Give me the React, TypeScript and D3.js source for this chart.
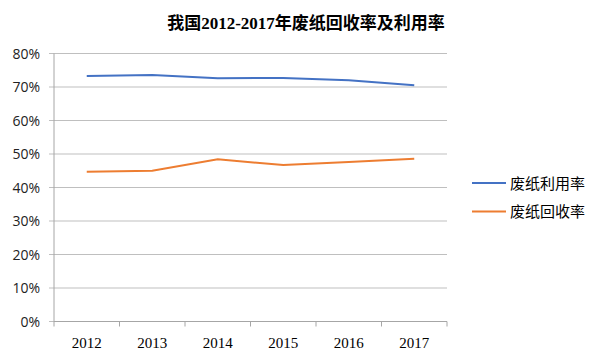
import React from "react";
import * as d3 from "d3";

const years = ["2012", "2013", "2014", "2015", "2016", "2017"];
const utilization = [0.733, 0.736, 0.726, 0.727, 0.72, 0.705];
const recovery = [0.447, 0.45, 0.484, 0.467, 0.476, 0.486];
const yTicks = [0, 0.1, 0.2, 0.3, 0.4, 0.5, 0.6, 0.7, 0.8];
const seriesNames = ["废纸利用率", "废纸回收率"];
const colors = ["#4472c4", "#ed7d31"];

export default function App() {
  const W = 600, H = 358;
  const left = 54, right = 447, top = 53.5, bottom = 321.5;
  const x = d3.scaleBand<string>().domain(years).range([left, right]);
  const y = d3.scaleLinear().domain([0, 0.8]).range([bottom, top]);
  const line = d3
    .line<number>()
    .x((_, i) => (x(years[i]) as number) + x.bandwidth() / 2)
    .y((d) => y(d));
  const series = [utilization, recovery];
  return (
    <svg width={W} height={H} style={{ position: "absolute", left: 0, top: 0, background: "#fff" }}>
      <rect width={W} height={H} fill="#fff" />
      <text x={306} y={28.5} textAnchor="middle" fontSize={17} fontWeight="bold"
        fontFamily="'Liberation Serif','Noto Sans CJK SC',serif" fill="#000">
        我国2012-2017年废纸回收率及利用率
      </text>
      {yTicks.map((t) => (
        <g key={t}>
          <line x1={left - 5} x2={right} y1={y(t)} y2={y(t)} stroke="#bfbfbf" strokeWidth={1} />
          <text x={40} y={y(t) + 5} textAnchor="end" fontSize={14}
            fontFamily="'Open Sans','Liberation Sans',sans-serif" fill="#222">
            {d3.format(".0%")(t)}
          </text>
        </g>
      ))}
      <line x1={left} x2={left} y1={top} y2={bottom + 5} stroke="#a6a6a6" strokeWidth={1} />
      <line x1={left} x2={right} y1={bottom} y2={bottom} stroke="#a6a6a6" strokeWidth={1} />
      {years.map((yr, i) => (
        <g key={yr}>
          <line x1={(x(yr) as number) + x.bandwidth()} x2={(x(yr) as number) + x.bandwidth()}
            y1={bottom} y2={bottom + 5} stroke="#a6a6a6" />
          <text x={(x(yr) as number) + x.bandwidth() / 2} y={348} textAnchor="middle" fontSize={15}
            fontFamily="'Liberation Serif',serif" fill="#000">
            {yr}
          </text>
        </g>
      ))}
      {series.map((s, i) => (
        <path key={i} d={line(s) as string} fill="none" stroke={colors[i]} strokeWidth={2} />
      ))}
      {seriesNames.map((n, i) => (
        <g key={n}>
          <line x1={472} x2={506} y1={183 + i * 28.5} y2={183 + i * 28.5} stroke={colors[i]} strokeWidth={2} />
          <text x={510} y={188.5 + i * 28.5} fontSize={15}
            fontFamily="'Noto Sans CJK SC',sans-serif" fill="#000">
            {n}
          </text>
        </g>
      ))}
    </svg>
  );
}
